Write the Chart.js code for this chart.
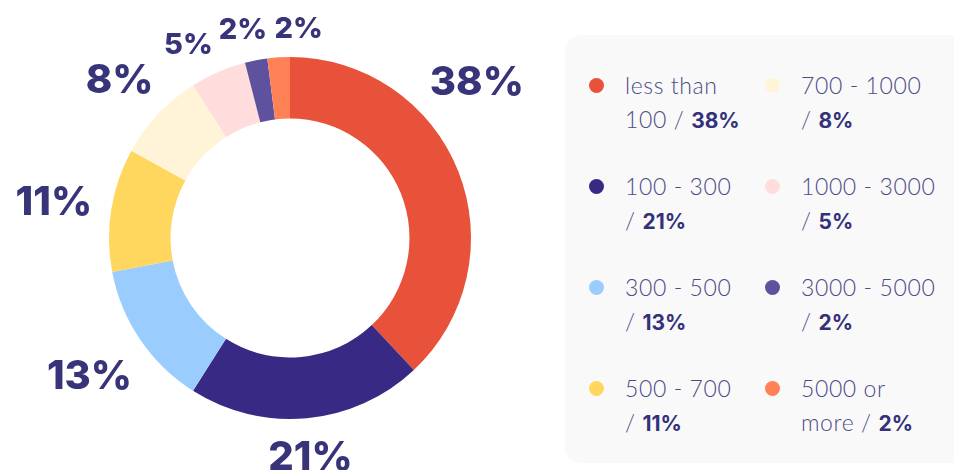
<!DOCTYPE html>
<html>
<head>
<meta charset="utf-8">
<script src="https://cdn.jsdelivr.net/npm/chart.js@4"></script>
<style>
    body { margin: 0; width: 954px; height: 470px; overflow: hidden; background: #fff; position: relative; font-family: Inter, "Noto Sans", sans-serif; }
    #chartBox { position: absolute; left: 0; top: 0; width: 580px; height: 470px; }
    #legend { position: absolute; left: 565px; top: 35px; width: 420px; height: 428px; background: #f9f9fa; border-radius: 16px; }
    .item { position: absolute; width: 139px; padding-left: 36px; font-family: Lato, Inter, sans-serif; font-size: 23px; letter-spacing: 0.6px; line-height: 34px; font-weight: 300; color: #4d4b86; }
    .item .dot { position: absolute; left: 0; top: 10px; width: 15px; height: 15px; border-radius: 50%; }
    .item b { font-family: Inter, sans-serif; font-size: 21px; letter-spacing: 0; color: #34317a; font-weight: 700; }
    .nw { white-space: nowrap; }
</style>
</head>
<body>
<div id="chartBox"><canvas id="donut"></canvas></div>
<div id="legend"></div>
<script>
const categories = ["less than 100", "100 - 300", "300 - 500", "500 - 700", "700 - 1000", "1000 - 3000", "3000 - 5000", "5000 or more"];
const shares = [38, 21, 13, 11, 8, 5, 2, 2];
const colors = ["#e8523a", "#382a84", "#9acdfe", "#ffd65e", "#fff4d8", "#ffdddd", "#5e529e", "#ff8256"];

// Build the legend panel (two columns, four rows)
function buildLegend() {
    const legend = document.getElementById("legend");
    categories.forEach((name, i) => {
        const col = Math.floor(i / 4);
        const row = i % 4;
        const item = document.createElement("div");
        item.className = "item";
        item.style.left = (24 + col * 176) + "px";
        item.style.top = (33 + row * 101) + "px";
        item.innerHTML = '<span class="dot" style="background:' + colors[i] + '"></span>' +
            name + ' <span class="nw">/ <b>' + shares[i] + '%</b></span>';
        legend.appendChild(item);
    });
}

// Percent labels around the ring, nudged apart when they collide
const pctLabels = {
    id: "pctLabels",
    afterDatasetsDraw(chart) {
        const ctx = chart.ctx;
        const arcs = chart.getDatasetMeta(0).data;
        const rightLimit = chart.width - 56;
        const items = arcs.map((arc, i) => {
            const size = shares[i] >= 8 ? 40 : 29;
            ctx.font = "800 " + size + "px Inter";
            const text = shares[i] + "%";
            return {
                text: text, size: size, w: ctx.measureText(text).width, h: size * 0.74,
                angle: (arc.startAngle + arc.endAngle) / 2, cx: arc.x, cy: arc.y, r: arc.outerRadius
            };
        });

        const place = (it) => {
            const c = Math.cos(it.angle), s = Math.sin(it.angle);
            const d = it.r + 18 + it.w / 2 * Math.abs(c) + it.h / 2 * Math.abs(s);
            it.x = it.cx + d * c;
            it.y = it.cy + d * s;
        };
        const overlap = (a, b) =>
            Math.abs(a.x - b.x) < (a.w + b.w) / 2 + 6 && Math.abs(a.y - b.y) < (a.h + b.h) / 2 + 6;

        items.forEach(place);
        // keep labels clear of the legend panel on the right
        items.forEach((it) => {
            let n = 0;
            while (it.x + it.w / 2 > rightLimit && n++ < 500) {
                it.angle += it.angle < 0 ? -0.004 : 0.004;
                place(it);
            }
        });
        for (let k = 0; k < 400; k++) {
            let moved = false;
            for (let i = 0; i < items.length - 1; i++) {
                const a = items[i], b = items[i + 1];
                if (overlap(a, b)) {
                    a.angle -= 0.004;
                    b.angle += 0.004;
                    place(a);
                    place(b);
                    moved = true;
                }
            }
            if (!moved) break;
        }

        ctx.save();
        ctx.fillStyle = "#37347a";
        ctx.textAlign = "center";
        ctx.textBaseline = "alphabetic";
        items.forEach((it) => {
            ctx.font = "800 " + it.size + "px Inter";
            ctx.fillText(it.text, it.x, it.y + it.h / 2);
        });
        ctx.restore();
    }
};

function renderChart() {
    new Chart(document.getElementById("donut"), {
        type: "doughnut",
        data: {
            labels: categories,
            datasets: [{
                data: shares,
                backgroundColor: colors,
                borderWidth: 0
            }]
        },
        options: {
            responsive: true,
            maintainAspectRatio: false,
            animation: false,
            cutout: "66%",
            layout: { padding: { top: 57, bottom: 51, left: 0, right: 0 } },
            plugins: {
                legend: { display: false },
                tooltip: { enabled: false }
            }
        },
        plugins: [pctLabels]
    });
}

document.addEventListener("DOMContentLoaded", () => {
    buildLegend();
    renderChart();
});
</script>
</body>
</html>
